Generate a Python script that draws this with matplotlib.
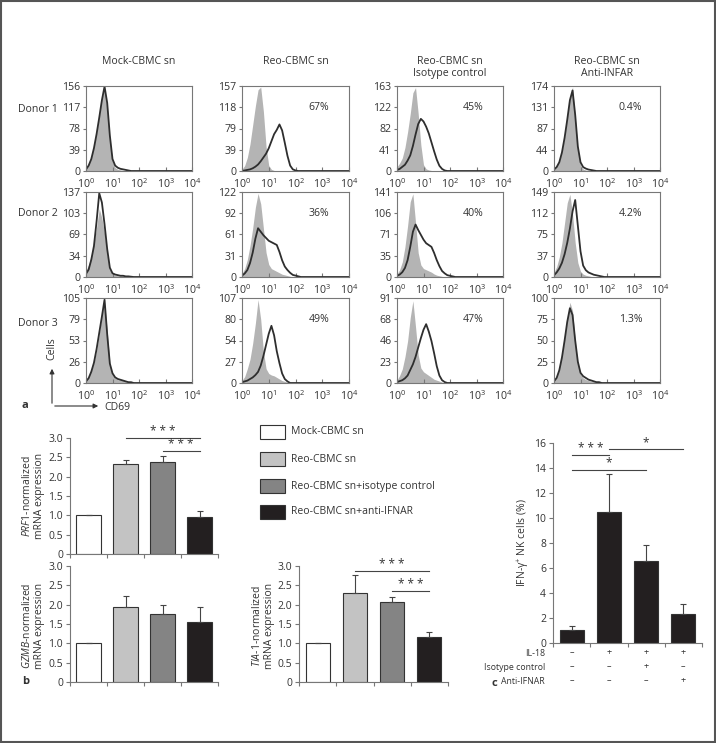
import matplotlib
matplotlib.use('Agg')
import matplotlib.pyplot as plt
import matplotlib as mp
import numpy as np
from matplotlib.patches import Rectangle
from matplotlib.transforms import ScaledTranslation

mp.rcParams['font.family'] = ['Open Sans', 'DejaVu Sans']
mp.rcParams['mathtext.fontset'] = 'custom'
mp.rcParams['mathtext.rm'] = 'Open Sans'
mp.rcParams['mathtext.it'] = 'Open Sans:italic'
mp.rcParams['font.size'] = 7
mp.rcParams['axes.edgecolor'] = '#777777'
mp.rcParams['axes.linewidth'] = 0.8
mp.rcParams['xtick.color'] = '#777777'
mp.rcParams['ytick.color'] = '#777777'
mp.rcParams['xtick.labelcolor'] = '#333333'
mp.rcParams['ytick.labelcolor'] = '#333333'
mp.rcParams['text.color'] = '#333333'

W, H = 716., 743.

# ---------------- panel a : CD69 histograms
conditions = ['Mock-CBMC sn', 'Reo-CBMC sn', 'Reo-CBMC sn\nIsotype control',
              'Reo-CBMC sn\nAnti-INFAR']
donors = ['Donor 1', 'Donor 2', 'Donor 3']
ytick_labels = [[[0, 39, 78, 117, 156], [0, 39, 79, 118, 157], [0, 41, 82, 122, 163], [0, 44, 87, 131, 174]],
                [[0, 34, 69, 103, 137], [0, 31, 61, 92, 122], [0, 35, 71, 106, 141], [0, 37, 75, 112, 149]],
                [[0, 26, 53, 79, 105], [0, 27, 54, 80, 107], [0, 23, 46, 68, 91], [0, 25, 50, 75, 100]]]
percents = [['', '67%', '45%', '0.4%'],
            ['', '36%', '40%', '4.2%'],
            ['', '49%', '47%', '1.3%']]
xtick_labels = ['$\\mathregular{10^{0}}$', '$\\mathregular{10^{1}}$', '$\\mathregular{10^{2}}$',
                '$\\mathregular{10^{3}}$', '$\\mathregular{10^{4}}$']

# log10(CD69) positions of the sampled points
log_cd69 = [0.0, 0.1, 0.2, 0.3, 0.4, 0.5, 0.6, 0.7, 0.8, 0.9, 1.0, 1.1,
            1.2, 1.3, 1.4, 1.5, 1.6, 1.7, 1.8, 1.9, 2.0, 2.1, 2.2, 4.0]

# gray filled (control staining), one list per condition
ctrl_donor1 = [[5, 12, 25, 45, 70, 100, 135, 150, 120, 60, 18, 6, 3, 2, 1, 1, 0, 0, 0, 0, 0, 0, 0, 0],
               [3, 10, 25, 50, 85, 120, 150, 155, 110, 45, 10, 3, 1, 0, 0, 0, 0, 0, 0, 0, 0, 0, 0, 0],
               [8, 15, 25, 45, 75, 110, 150, 160, 110, 50, 12, 4, 2, 1, 0, 0, 0, 0, 0, 0, 0, 0, 0, 0],
               [5, 10, 20, 40, 70, 110, 150, 172, 110, 45, 12, 4, 2, 1, 0, 0, 0, 0, 0, 0, 0, 0, 0, 0]]
ctrl_donor2 = [[10, 20, 35, 55, 80, 110, 95, 70, 35, 12, 5, 3, 2, 2, 2, 1.5, 1, 1, 0.5, 0, 0, 0, 0, 0],
               [5, 12, 25, 45, 70, 100, 120, 105, 70, 35, 18, 12, 10, 8, 6, 4, 3, 2, 1, 0, 0, 0, 0, 0],
               [5, 12, 25, 50, 85, 125, 138, 90, 40, 20, 14, 12, 10, 8, 5, 3, 2, 1, 0, 0, 0, 0, 0, 0],
               [8, 18, 35, 60, 95, 130, 145, 110, 60, 25, 10, 5, 3, 2, 1, 0, 0, 0, 0, 0, 0, 0, 0, 0]]
ctrl_donor3 = [[3, 8, 15, 25, 40, 60, 85, 100, 65, 25, 10, 6, 4, 4, 3, 3, 2, 1.5, 1, 0, 0, 0, 0, 0],
               [3, 8, 18, 30, 50, 75, 105, 80, 40, 18, 12, 10, 9, 7, 5, 3, 2, 1, 0, 0, 0, 0, 0, 0],
               [3, 8, 15, 28, 45, 70, 88, 60, 30, 16, 12, 10, 8, 6, 4, 3, 2, 1, 0, 0, 0, 0, 0, 0],
               [3, 8, 18, 32, 52, 75, 95, 85, 50, 22, 10, 6, 4, 3, 2, 2, 1, 1, 0, 0, 0, 0, 0, 0]]
# dark outline (CD69 staining)
cd69_donor1 = [[3, 10, 22, 42, 68, 98, 130, 155, 125, 65, 22, 10, 6, 4, 3, 2, 1, 0, 0, 0, 0, 0, 0, 0],
               [0, 1, 2, 3, 5, 8, 12, 18, 25, 32, 42, 55, 68, 76, 86, 75, 52, 28, 10, 3, 1, 0, 0, 0],
               [2, 4, 8, 12, 20, 30, 48, 70, 90, 100, 95, 85, 72, 55, 38, 22, 10, 4, 1, 0, 0, 0, 0, 0],
               [3, 8, 18, 38, 68, 105, 145, 165, 115, 50, 18, 8, 5, 3, 2, 1, 0, 0, 0, 0, 0, 0, 0, 0]]
cd69_donor2 = [[5, 12, 28, 50, 90, 135, 120, 85, 45, 15, 6, 4, 3, 2, 2, 1, 1, 0.5, 0, 0, 0, 0, 0, 0],
               [2, 5, 10, 20, 35, 55, 70, 65, 60, 56, 52, 50, 48, 46, 36, 24, 15, 10, 6, 3, 2, 1, 0, 0],
               [2, 4, 8, 15, 28, 50, 75, 87, 78, 70, 62, 56, 53, 50, 40, 28, 18, 10, 6, 3, 2, 1, 0, 0],
               [3, 8, 15, 25, 40, 60, 85, 115, 135, 90, 45, 20, 12, 8, 6, 4, 3, 2, 1, 0, 0, 0, 0, 0]]
cd69_donor3 = [[2, 6, 14, 25, 42, 62, 82, 103, 60, 24, 12, 7, 5, 4, 3, 2, 1, 1, 0, 0, 0, 0, 0, 0],
               [1, 2, 3, 5, 7, 10, 14, 22, 34, 48, 62, 72, 60, 40, 25, 12, 5, 2, 0, 0, 0, 0, 0, 0],
               [1, 2, 3, 5, 8, 14, 20, 28, 38, 48, 57, 63, 55, 45, 32, 18, 8, 3, 1, 0, 0, 0, 0, 0],
               [2, 6, 15, 30, 50, 72, 88, 80, 50, 25, 12, 8, 6, 4, 3, 2, 1, 1, 0, 0, 0, 0, 0, 0]]
ctrl_rows = [ctrl_donor1, ctrl_donor2, ctrl_donor3]
cd69_rows = [cd69_donor1, cd69_donor2, cd69_donor3]

# ---------------- panel b : qPCR
groups = ['Mock-CBMC sn', 'Reo-CBMC sn', 'Reo-CBMC sn+isotype control', 'Reo-CBMC sn+anti-IFNAR']
group_colors = ['white', '#c3c3c3', '#848484', '#231f20']
prf1 = [1.0, 2.33, 2.38, 0.96]
prf1_err = [0, 0.09, 0.15, 0.16]
gzmb = [1.0, 1.95, 1.77, 1.55]
gzmb_err = [0, 0.28, 0.21, 0.38]
tia1 = [1.0, 2.30, 2.06, 1.16]
tia1_err = [0, 0.47, 0.13, 0.13]
prf1_sig = [(1, 3, 3.0, '* * *'), (2, 3, 2.67, '* * *')]
tia1_sig = [(1, 3, 2.87, '* * *'), (2, 3, 2.36, '* * *')]

# ---------------- panel c : IFN-gamma+ NK cells
ifng = [1.06, 10.45, 6.53, 2.29]
ifng_err = [0.27, 3.05, 1.31, 0.83]
ifng_sig = [(0, 1, 15.06, '* * *'), (1, 3, 15.5, '*'), (0, 2, 13.86, '*')]
treat_names = ['IL-18', 'Isotype control', 'Anti-IFNAR']
il18 = ['–', '+', '+', '+']
isotype = ['–', '–', '+', '–']
anti_ifnar = ['–', '–', '–', '+']


def box(x0, y0, x1, y1):
    return [x0 / W, 1 - y1 / H, (x1 - x0) / W, (y1 - y0) / H]


fig = plt.figure(figsize=(W / 100, H / 100), dpi=100)
ov = fig.add_axes([0, 0, 1, 1])
ov.set_xlim(0, W)
ov.set_ylim(H, 0)
ov.axis('off')
ov.add_patch(Rectangle((1, 1), W - 2.5, H - 2.5, fill=False, ec='#555555', lw=1.5))

col_x = [(86, 192), (242, 349), (397, 503), (554, 660)]
row_y = [(86, 171), (192, 277), (298, 383)]
donor_y = [110, 213, 323]

for j, cond in enumerate(conditions):
    ov.text((col_x[j][0] + col_x[j][1]) / 2., 56, cond, ha='center', va='top',
            fontsize=7.6, linespacing=1.1)

shift = ScaledTranslation(3 / 100., 0, fig.dpi_scale_trans)
x_cd69 = 10 ** np.array(log_cd69)
for i in range(3):
    ov.text(58, donor_y[i], donors[i], ha='right', va='center', fontsize=7.6)
    for j in range(4):
        ax = fig.add_axes(box(col_x[j][0], row_y[i][0], col_x[j][1], row_y[i][1]))
        ax.set_xscale('log')
        ax.fill_between(x_cd69, 0, ctrl_rows[i][j], color='#b4b4b4', lw=0)
        ax.plot(x_cd69, cd69_rows[i][j], color='#2e2e2e', lw=1.3)
        ymax = ytick_labels[i][j][-1]
        ax.set_xlim(1, 1e4)
        ax.set_ylim(0, ymax)
        ax.set_yticks(np.linspace(0, ymax, 5))
        ax.set_yticklabels(ytick_labels[i][j])
        ax.set_xticks([1, 10, 100, 1000, 10000])
        ax.set_xticklabels(xtick_labels)
        for lab in ax.get_xticklabels():
            lab.set_transform(lab.get_transform() + shift)
        ax.xaxis.set_minor_formatter(mp.ticker.NullFormatter())
        ax.tick_params(axis='x', which='major', direction='in', length=3, pad=4.5, labelsize=7.6)
        ax.tick_params(axis='x', which='minor', direction='in', length=1.5)
        ax.tick_params(axis='y', direction='out', length=2.5, pad=1.5, labelsize=7.6)
        if percents[i][j]:
            ax.text(0.72, 0.75, percents[i][j], transform=ax.transAxes,
                    ha='center', va='center', fontsize=7.6)

# Cells / CD69 axes arrows
ov.annotate('', xy=(52, 366), xytext=(52, 406),
            arrowprops=dict(arrowstyle='-|>', color='#333333', lw=0.8, mutation_scale=7))
ov.annotate('', xy=(101, 406), xytext=(52, 406),
            arrowprops=dict(arrowstyle='-|>', color='#333333', lw=0.8, mutation_scale=7))
ov.text(52, 349, 'Cells', rotation=90, ha='center', va='center', fontsize=7.6)
ov.text(104, 407, 'CD69', ha='left', va='center', fontsize=7.6)
ov.text(22, 406, 'a', ha='left', va='center', fontsize=8, fontweight='bold')


def bar_panel(ax, vals, errs, colors, sigs, ymax, ystep, labelsize=7.5):
    x = np.arange(len(vals))
    ax.bar(x, vals, 0.65, color=colors, edgecolor='#333333', lw=0.8, zorder=2)
    ax.errorbar(x, vals, yerr=[np.zeros(len(errs)), errs], fmt='none', ecolor='#444444',
                elinewidth=0.8, capsize=2.5, capthick=0.8, zorder=3)
    for a, b, y, lab in sigs:
        ax.plot([a, b], [y, y], color='#444444', lw=0.8, clip_on=False)
        ax.text((a + b) / 2., y, lab, ha='center', va='bottom', fontsize=8.5)
    ax.set_xlim(-0.5, len(vals) - 0.5)
    ax.set_ylim(0, ymax)
    ax.set_xticks(np.arange(len(vals) + 1) - 0.5)
    ax.set_xticklabels([])
    yt = np.arange(0, ymax + ystep / 2., ystep)
    ax.set_yticks(yt)
    ax.spines['top'].set_visible(False)
    ax.spines['right'].set_visible(False)
    ax.tick_params(direction='out', length=3, labelsize=labelsize, pad=2)
    return yt


ax_prf = fig.add_axes(box(70, 438, 218, 554))
yt = bar_panel(ax_prf, prf1, prf1_err, group_colors, prf1_sig, 3.0, 0.5)
ax_prf.set_yticklabels(['0'] + ['%.1f' % v for v in yt[1:]])
ax_gzm = fig.add_axes(box(70, 566, 218, 682))
yt = bar_panel(ax_gzm, gzmb, gzmb_err, group_colors, [], 3.0, 0.5)
ax_gzm.set_yticklabels(['0'] + ['%.1f' % v for v in yt[1:]])
ax_tia = fig.add_axes(box(299, 566, 448, 682))
yt = bar_panel(ax_tia, tia1, tia1_err, group_colors, tia1_sig, 3.0, 0.5)
ax_tia.set_yticklabels(['0'] + ['%.1f' % v for v in yt[1:]])

ov.text(33, 496, '$\\mathit{PRF1}$-normalized\nmRNA expression', rotation=90,
        ha='center', va='center', fontsize=7.5, linespacing=1.05)
ov.text(33, 626, '$\\mathit{GZMB}$-normalized\nmRNA expression', rotation=90,
        ha='center', va='center', fontsize=7.5, linespacing=1.05)
ov.text(263, 626, '$\\mathit{TIA}$-$\\mathit{1}$-normalized\nmRNA expression', rotation=90,
        ha='center', va='center', fontsize=7.5, linespacing=1.05)
ov.text(22, 682, 'b', ha='left', va='center', fontsize=8, fontweight='bold')

# legend
for k, (g, c) in enumerate(zip(groups, group_colors)):
    yc = [432, 459, 486, 512][k]
    ov.add_patch(Rectangle((260, yc - 7), 25, 14, fc=c, ec='#333333', lw=0.8))
    ov.text(291, yc, g, ha='left', va='center', fontsize=7.5)

# panel c
ax_c = fig.add_axes(box(553, 443, 702, 643))
yt = bar_panel(ax_c, ifng, ifng_err, ['#231f20'] * 4, ifng_sig, 16, 2, labelsize=7.5)
ax_c.set_yticklabels(['%d' % v for v in yt])
ov.text(524, 543, 'IFN-γ$\\mathregular{^{+}}$ NK cells (%)', rotation=90,
        ha='center', va='center', fontsize=7.5)
for r, (name, row) in enumerate(zip(treat_names, [il18, isotype, anti_ifnar])):
    yr = -0.05 - 0.07 * r
    ax_c.text(-0.055, yr, name, transform=ax_c.transAxes, ha='right', va='center', fontsize=6.3)
    for i, s in enumerate(row):
        ax_c.annotate(s, xy=(i, yr), xycoords=('data', 'axes fraction'),
                      ha='center', va='center', fontsize=6.5)
ov.text(492, 683, 'c', ha='left', va='center', fontsize=8, fontweight='bold')

fig.savefig('out.png', dpi=100)
